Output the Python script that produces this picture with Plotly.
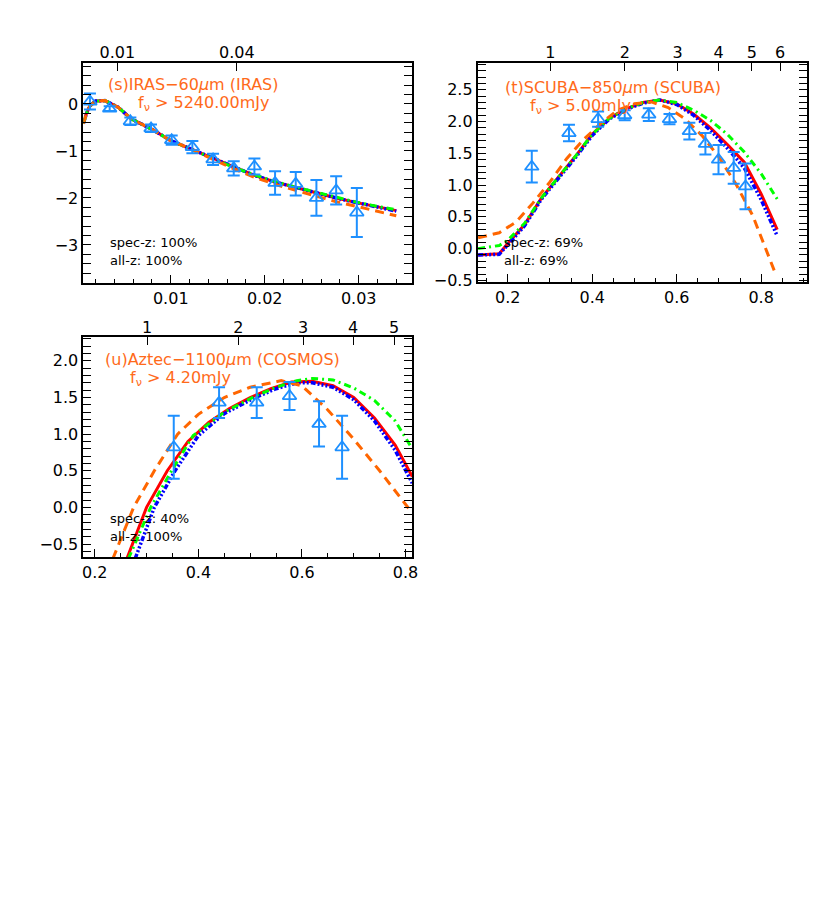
import numpy as np
import plotly.graph_objects as go

# ---------------- Panel (s) IRAS-60um ----------------
s_pts_x = [0.0014, 0.0035, 0.0057, 0.0079, 0.0101, 0.0123, 0.0145, 0.0167, 0.0189, 0.0211, 0.0233, 0.0255, 0.0276, 0.0298]
s_pts_y = [0.05, -0.10, -0.37, -0.52, -0.77, -0.92, -1.18, -1.37, -1.33, -1.68, -1.70, -2.00, -1.84, -2.31]
s_pts_err = [0.17, 0.05, 0.08, 0.08, 0.10, 0.13, 0.12, 0.15, 0.17, 0.25, 0.25, 0.38, 0.30, 0.52]

s_curve_x = [0.0007, 0.0010, 0.0014, 0.0020, 0.0030, 0.0044, 0.0058, 0.0079, 0.0100, 0.0123,
             0.0146, 0.0167, 0.0189, 0.0211, 0.0233, 0.0255, 0.0276, 0.0298, 0.0320, 0.0340]
s_red = [-0.42, -0.22, -0.04, 0.06, 0.07, -0.07, -0.32, -0.53, -0.78, -0.97,
         -1.17, -1.35, -1.52, -1.66, -1.78, -1.89, -2.00, -2.10, -2.19, -2.27]
s_blue = [-0.42, -0.22, -0.04, 0.06, 0.07, -0.07, -0.32, -0.53, -0.78, -0.97,
          -1.17, -1.35, -1.52, -1.66, -1.78, -1.89, -2.00, -2.10, -2.19, -2.28]
s_green = [-0.42, -0.22, -0.04, 0.06, 0.07, -0.07, -0.32, -0.53, -0.78, -0.97,
           -1.17, -1.35, -1.51, -1.65, -1.77, -1.88, -1.99, -2.09, -2.18, -2.25]
s_orange = [-0.42, -0.22, -0.04, 0.06, 0.07, -0.07, -0.32, -0.53, -0.78, -0.97,
            -1.19, -1.38, -1.56, -1.71, -1.84, -1.96, -2.08, -2.18, -2.29, -2.38]
s_top_z = [0.01, 0.04]
s_top_labels = ["0.01", "0.04"]

# ---------------- Panel (t) SCUBA-850um ----------------
t_pts_x = [0.257, 0.345, 0.414, 0.477, 0.534, 0.583, 0.630, 0.668, 0.699, 0.735, 0.763]
t_pts_y = [1.29, 1.82, 2.04, 2.10, 2.11, 2.04, 1.85, 1.65, 1.40, 1.27, 0.98]
t_pts_err = [0.25, 0.13, 0.12, 0.08, 0.10, 0.08, 0.13, 0.17, 0.23, 0.25, 0.36]

t_curve_x = [0.13, 0.18, 0.20, 0.24, 0.28, 0.32, 0.36, 0.40, 0.44, 0.48,
             0.52, 0.56, 0.60, 0.64, 0.68, 0.72, 0.76, 0.80, 0.838]
t_red = [-0.10, -0.08, 0.08, 0.38, 0.80, 1.12, 1.45, 1.80, 2.05, 2.20,
         2.30, 2.34, 2.28, 2.12, 1.90, 1.64, 1.36, 0.86, 0.30]
t_blue = [-0.10, -0.09, 0.06, 0.36, 0.78, 1.10, 1.43, 1.78, 2.04, 2.19,
          2.29, 2.34, 2.27, 2.10, 1.86, 1.58, 1.27, 0.77, 0.20]
t_green = [0.00, 0.05, 0.13, 0.40, 0.80, 1.12, 1.45, 1.80, 2.05, 2.20,
           2.30, 2.34, 2.30, 2.18, 2.02, 1.80, 1.52, 1.18, 0.78]
t_orange_x = [0.13, 0.18, 0.22, 0.26, 0.30, 0.34, 0.38, 0.42, 0.46, 0.50,
              0.54, 0.58, 0.62, 0.66, 0.70, 0.74, 0.78, 0.836]
t_orange = [0.17, 0.25, 0.42, 0.72, 1.05, 1.42, 1.72, 1.97, 2.18, 2.28,
            2.31, 2.22, 2.04, 1.78, 1.44, 1.02, 0.52, -0.43]
t_top_z = [1, 2, 3, 4, 5, 6]
t_top_labels = ["1", "2", "3", "4", "5", "6"]

# ---------------- Panel (u) Aztec-1100um ----------------
u_pts_x = [0.3525, 0.440, 0.5127, 0.576, 0.633, 0.6775]
u_pts_y = [0.82, 1.43, 1.43, 1.52, 1.14, 0.82]
u_pts_err = [0.43, 0.21, 0.21, 0.19, 0.31, 0.43]

u_red_x = [0.262, 0.30, 0.34, 0.38, 0.42, 0.46, 0.50, 0.54, 0.58, 0.62, 0.66, 0.70, 0.74, 0.78, 0.813]
u_red = [-0.70, 0.00, 0.50, 0.90, 1.16, 1.35, 1.50, 1.62, 1.71, 1.72, 1.66, 1.50, 1.22, 0.85, 0.42]
u_blue_x = [0.278, 0.315, 0.355, 0.40, 0.45, 0.51, 0.55, 0.59, 0.62, 0.66, 0.70, 0.74, 0.78, 0.813]
u_blue = [-0.70, 0.00, 0.50, 0.98, 1.28, 1.50, 1.62, 1.70, 1.70, 1.64, 1.47, 1.18, 0.78, 0.33]
u_green_x = [0.265, 0.308, 0.35, 0.39, 0.45, 0.51, 0.55, 0.59, 0.62, 0.66, 0.70, 0.74, 0.78, 0.813]
u_green = [-0.70, 0.00, 0.52, 0.98, 1.30, 1.52, 1.64, 1.73, 1.76, 1.74, 1.63, 1.46, 1.18, 0.80]
u_orange_x = [0.235, 0.275, 0.315, 0.36, 0.40, 0.45, 0.50, 0.56, 0.60, 0.65, 0.70, 0.75, 0.81]
u_orange = [-0.70, 0.00, 0.50, 1.00, 1.27, 1.50, 1.64, 1.73, 1.66, 1.33, 0.93, 0.50, -0.05]
u_top_z = [1, 2, 3, 4, 5]
u_top_labels = ["1", "2", "3", "4", "5"]

# ---------------- styling ----------------
W, H = 830, 923
FONT = "DejaVu Sans"
ORANGE_TXT = "#FF6A1A"
PT_BLUE = "#1E90FF"


def px_x(p):
    return p / W


def px_y(p):
    return 1 - p / H


fig = go.Figure()

panels = [
    dict(ax="", top="4", box=(75, 406.7, 55, 277), xr=[0.0007, 0.0357], yr=[-3.8, 0.88],
         xt=[0.01, 0.02, 0.03], xfmt=".2f", xminor=0.002, ydt=1, yfmt="d", yminor=0.2,
         pts=(s_pts_x, s_pts_y, s_pts_err),
         curves=[(s_curve_x, s_red), (s_curve_x, s_blue), (s_curve_x, s_green), (s_curve_x, s_orange)],
         topz=s_top_z, toplab=s_top_labels),
    dict(ax="2", top="5", box=(472.7, 805, 55, 276.7), xr=[0.129, 0.909], yr=[-0.53, 2.93],
         xt=[0.2, 0.4, 0.6, 0.8], xfmt=".1f", xminor=0.05, ydt=0.5, yfmt=".1f", yminor=0.1,
         pts=(t_pts_x, t_pts_y, t_pts_err),
         curves=[(t_curve_x, t_red), (t_curve_x, t_blue), (t_curve_x, t_green), (t_orange_x, t_orange)],
         topz=t_top_z, toplab=t_top_labels),
    dict(ax="3", top="6", box=(75, 406.7, 332.3, 554), xr=[0.178, 0.813], yr=[-0.68, 2.32],
         xt=[0.2, 0.4, 0.6, 0.8], xfmt=".1f", xminor=0.05, ydt=0.5, yfmt=".1f", yminor=0.1,
         pts=(u_pts_x, u_pts_y, u_pts_err),
         curves=[(u_red_x, u_red), (u_blue_x, u_blue), (u_green_x, u_green), (u_orange_x, u_orange)],
         topz=u_top_z, toplab=u_top_labels),
]

line_styles = [
    dict(color="#FF0000", width=3, dash="solid"),
    dict(color="#0000FF", width=3.5, dash="5px,2px,2px,2px,2px,2px,2px,2px"),
    dict(color="#00FF00", width=3, dash="7px,4px,2px,4px"),
    dict(color="#FF6600", width=3, dash="9px,6px"),
]

axis_common = dict(showline=True, linecolor="black", linewidth=1.8, showgrid=False, zeroline=False,
                   ticks="inside", ticklen=8, tickwidth=1.3, tickcolor="black",
                   tickfont=dict(family=FONT, size=16, color="black"))

layout = {}
for p in panels:
    a = p["ax"]
    xname = "x" + a
    yname = "y" + a
    x0, x1, y0, y1 = p["box"]
    layout["xaxis" + a] = dict(axis_common, domain=[px_x(x0), px_x(x1)], anchor=yname, range=p["xr"],
                               tickmode="array", tickvals=p["xt"], tickformat=p["xfmt"], mirror=True,
                               minor=dict(ticks="inside", ticklen=4, tickwidth=1, tickcolor="black",
                                          dtick=p["xminor"], tick0=0))
    layout["yaxis" + a] = dict(axis_common, domain=[px_y(y1), px_y(y0)], anchor=xname, range=p["yr"],
                               dtick=p["ydt"], tick0=0, tickformat=p["yfmt"], mirror="allticks",
                               minor=dict(ticks="inside", ticklen=4, tickwidth=1, tickcolor="black",
                                          dtick=p["yminor"], tick0=0))
    topvals = list(np.log10(1 + np.array(p["topz"], dtype=float)))
    layout["xaxis" + p["top"]] = dict(showgrid=False, zeroline=False, showline=False,
                                      overlaying=xname, side="top", anchor=yname, range=p["xr"],
                                      tickmode="array", tickvals=topvals, ticktext=p["toplab"],
                                      ticks="inside", ticklen=8, tickwidth=1.3, tickcolor="black",
                                      tickfont=dict(family=FONT, size=16, color="black"))
    # curves
    for (cx, cy), st in zip(p["curves"], line_styles):
        fig.add_trace(go.Scatter(x=cx, y=cy, mode="lines", line=st, xaxis=xname, yaxis=yname,
                                 showlegend=False, hoverinfo="skip", cliponaxis=True))
    # data points
    xs, ys, es = p["pts"]
    fig.add_trace(go.Scatter(x=xs, y=ys, mode="markers", xaxis=xname, yaxis=yname,
                             marker=dict(symbol="triangle-up-open", size=12, color=PT_BLUE,
                                         line=dict(color=PT_BLUE, width=1.8)),
                             error_y=dict(type="data", array=es, color=PT_BLUE, thickness=2, width=6),
                             showlegend=False, hoverinfo="skip"))
    # invisible trace to anchor top axis
    fig.add_trace(go.Scatter(x=p["xr"], y=[p["yr"][0], p["yr"][0]], mode="markers",
                             marker=dict(opacity=0), xaxis="x" + p["top"], yaxis=yname,
                             showlegend=False, hoverinfo="skip"))

annots = [
    ("(s)IRAS\u221260<i>\u03bc</i>m (IRAS)", 98, 77, ORANGE_TXT, 16),
    ("f<sub>\u03bd</sub> > 5240.00mJy", 128, 96, ORANGE_TXT, 16),
    ("spec-z: 100%", 100, 237, "black", 13),
    ("all-z: 100%", 100, 255, "black", 13),
    ("(t)SCUBA\u2212850<i>\u03bc</i>m (SCUBA)", 498, 80, ORANGE_TXT, 16),
    ("f<sub>\u03bd</sub> > 5.00mJy", 523, 99, ORANGE_TXT, 16),
    ("spec-z: 69%", 497, 237, "black", 13),
    ("all-z: 69%", 497, 255, "black", 13),
    ("(u)Aztec\u22121100<i>\u03bc</i>m (COSMOS)", 95, 355, ORANGE_TXT, 16),
    ("f<sub>\u03bd</sub> > 4.20mJy", 120, 374, ORANGE_TXT, 16),
    ("spec-z: 40%", 100, 515, "black", 13),
    ("all-z: 100%", 100, 533, "black", 13),
]
annotations = []
for txt, ax_, ay_, col, sz in annots:
    annotations.append(dict(text=txt, x=px_x(ax_), y=px_y(ay_), xref="paper", yref="paper",
                            xanchor="left", yanchor="middle", showarrow=False,
                            font=dict(family=FONT, size=sz, color=col)))

fig.update_layout(width=W, height=H, margin=dict(l=0, r=0, t=0, b=0),
                  paper_bgcolor="white", plot_bgcolor="white",
                  annotations=annotations, showlegend=False, **layout)

fig.write_html("out.html")
